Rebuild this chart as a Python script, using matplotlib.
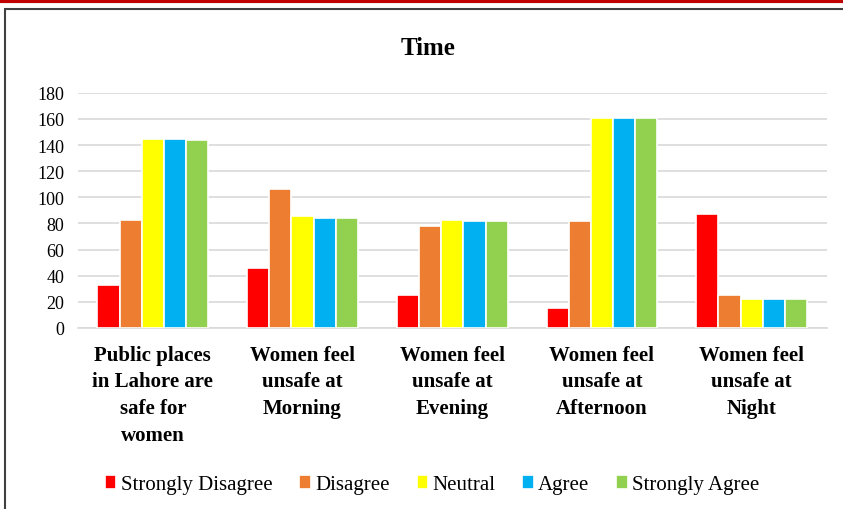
import numpy as np
import matplotlib.pyplot as plt
from matplotlib.patches import Rectangle
from matplotlib.lines import Line2D

plt.rcParams['font.family'] = ['Liberation Serif', 'DejaVu Serif']

# Data
categories = [
    "Public places\nin Lahore are\nsafe for\nwomen",
    "Women feel\nunsafe at\nMorning",
    "Women feel\nunsafe at\nEvening",
    "Women feel\nunsafe at\nAfternoon",
    "Women feel\nunsafe at\nNight",
]
series_names = ["Strongly Disagree", "Disagree", "Neutral", "Agree", "Strongly Agree"]
strongly_disagree = [33, 46, 25, 15, 87]
disagree = [83, 106, 78, 82, 25]
neutral = [145, 86, 83, 161, 22]
agree = [145, 84, 82, 161, 22]
strongly_agree = [144, 84, 82, 161, 22]
colors = ["#ff0000", "#ed7d31", "#ffff00", "#00b0f0", "#92d050"]
yticks = [0, 20, 40, 60, 80, 100, 120, 140, 160, 180]

series = [strongly_disagree, disagree, neutral, agree, strongly_agree]

fig = plt.figure(figsize=(8.43, 5.10), dpi=100)
ax = fig.add_axes([0.0925, 0.355, 0.888, 0.461])

x = np.arange(len(categories))
w = 0.148
for i, (vals, name, c) in enumerate(zip(series, series_names, colors)):
    ax.bar(x + (i - 2) * w, vals, width=w, color=c, edgecolor="white",
           linewidth=1.2, label=name, zorder=3)

ax.set_ylim(0, 180)
ax.set_xlim(-0.5, len(categories) - 0.5)
ax.set_yticks(yticks)
ax.tick_params(axis="y", length=0, labelsize=13, pad=10)
ax.tick_params(axis="x", length=0, pad=12)
ax.set_xticks(x)
ax.set_xticklabels(categories, fontsize=15, fontweight="bold", linespacing=1.45)
ax.yaxis.grid(True, color="#d9d9d9", linewidth=1.2, zorder=0)
for s in ["top", "right", "left"]:
    ax.spines[s].set_visible(False)
ax.spines["bottom"].set_color("#d9d9d9")
ax.spines["bottom"].set_linewidth(1.2)

fig.text(0.508, 0.905, "Time", ha="center", va="center", fontsize=18, fontweight="bold")

ax.legend(loc="center", bbox_to_anchor=(0.473, -0.665),
          ncol=5, frameon=False, fontsize=15, handlelength=0.55, handleheight=0.65,
          handletextpad=0.2, columnspacing=1.3)

# Outer frame and top rule
fig.patches.append(Rectangle((0.006, -0.01), 1.1, 0.99, transform=fig.transFigure,
                             fill=False, edgecolor="#404040", linewidth=1.5))
fig.lines.append(Line2D([0, 1], [0.996, 0.996], transform=fig.transFigure,
                        color="#c00000", linewidth=3))

fig.savefig("out.png", dpi=100)
